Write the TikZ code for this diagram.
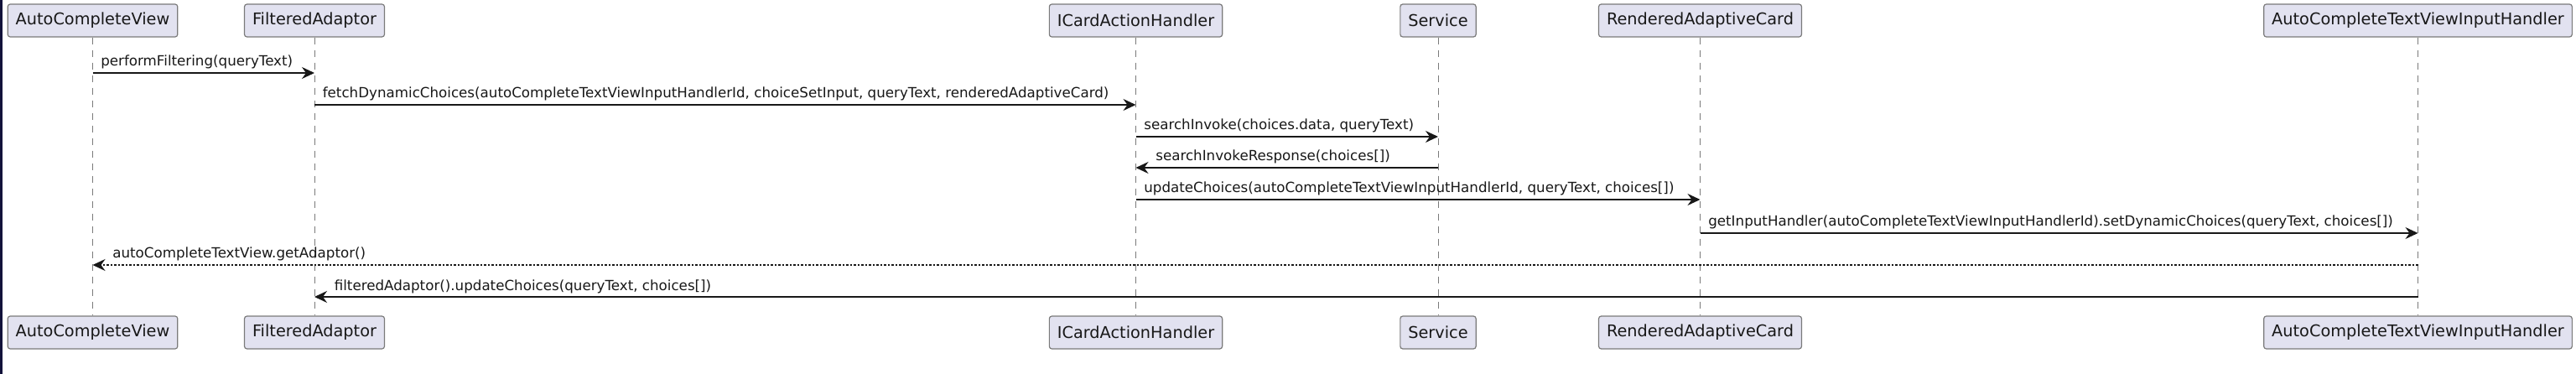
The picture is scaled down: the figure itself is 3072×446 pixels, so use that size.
\documentclass[tikz,border=0pt]{standalone}
\usepackage{fontspec}
\setmainfont{DejaVu Sans}
\usepackage{xcolor}
\usetikzlibrary{arrows.meta}
\definecolor{partfill}{HTML}{E2E2F0}
\definecolor{partedge}{HTML}{7A7A7A}
\definecolor{lineink}{HTML}{181818}
\definecolor{edgeblue}{HTML}{12123A}

\tikzset{
  part/.style={draw=partedge,line width=1.2pt,fill=partfill,rounded corners=3pt,
    minimum height=39pt,inner xsep=9.5pt,inner ysep=0pt,
    font=\fontsize{19.3}{23}\selectfont,text=lineink},
  life/.style={draw=partedge,line width=1pt,dash pattern=on 8pt off 7pt},
  msg/.style={draw=lineink,line width=1.6pt,
    -{Stealth[length=15pt,width=14pt,inset=5pt]}},
  reply/.style={msg,dash pattern=on 2.5pt off 2pt},
  lbl/.style={font=\fontsize{16.7}{20}\selectfont,text=lineink,inner sep=0pt,anchor=base west}
}

\begin{document}
\begin{tikzpicture}[x=1pt,y=-1pt]
  \useasboundingbox (0,0) rectangle (3072,446);
  \fill[edgeblue] (0,0) rectangle (3,446);
  % participants, top and bottom, with their lifelines
  \foreach \n/\x/\t in {acv/110.5/AutoCompleteView,fad/375/FilteredAdaptor,
      ich/1354.5/ICardActionHandler,svc/1715/Service,
      rac/2027.5/RenderedAdaptiveCard,ach/2883.5/AutoCompleteTextViewInputHandler}{
    \node[part] (\n top) at (\x,24.5) {\t};
    \node[part] (\n bot) at (\x,396.5) {\t};
    \draw[life] (\n top) -- (\n bot);
  }
  % message rows
  \foreach \m/\y in {1/87,2/125,3/163,4/200,5/238,6/278,7/316,8/354}{
    \coordinate (row\m) at (0,\y);
  }
  \draw[msg] (acvtop |- row1) -- (fadtop |- row1)
    node[lbl,pos=0,xshift=9pt,yshift=8pt] {performFiltering(queryText)};
  \draw[msg] (fadtop |- row2) -- (ichtop |- row2)
    node[lbl,pos=0,xshift=9pt,yshift=8pt] {fetchDynamicChoices(autoCompleteTextViewInputHandlerId, choiceSetInput, queryText, renderedAdaptiveCard)};
  \draw[msg] (ichtop |- row3) -- (svctop |- row3)
    node[lbl,pos=0,xshift=9pt,yshift=8pt] {searchInvoke(choices.data, queryText)};
  \draw[msg] (svctop |- row4) -- (ichtop |- row4)
    node[lbl,pos=1,xshift=23pt,yshift=8pt] {searchInvokeResponse(choices[])};
  \draw[msg] (ichtop |- row5) -- (ractop |- row5)
    node[lbl,pos=0,xshift=9pt,yshift=8pt] {updateChoices(autoCompleteTextViewInputHandlerId, queryText, choices[])};
  \draw[msg] (ractop |- row6) -- (achtop |- row6)
    node[lbl,pos=0,xshift=9pt,yshift=8pt] {getInputHandler(autoCompleteTextViewInputHandlerId).setDynamicChoices(queryText, choices[])};
  \draw[reply] (achtop |- row7) -- (acvtop |- row7)
    node[lbl,pos=1,xshift=23pt,yshift=8pt] {autoCompleteTextView.getAdaptor()};
  \draw[msg] (achtop |- row8) -- (fadtop |- row8)
    node[lbl,pos=1,xshift=23pt,yshift=8pt] {filteredAdaptor().updateChoices(queryText, choices[])};
\end{tikzpicture}
\end{document}
